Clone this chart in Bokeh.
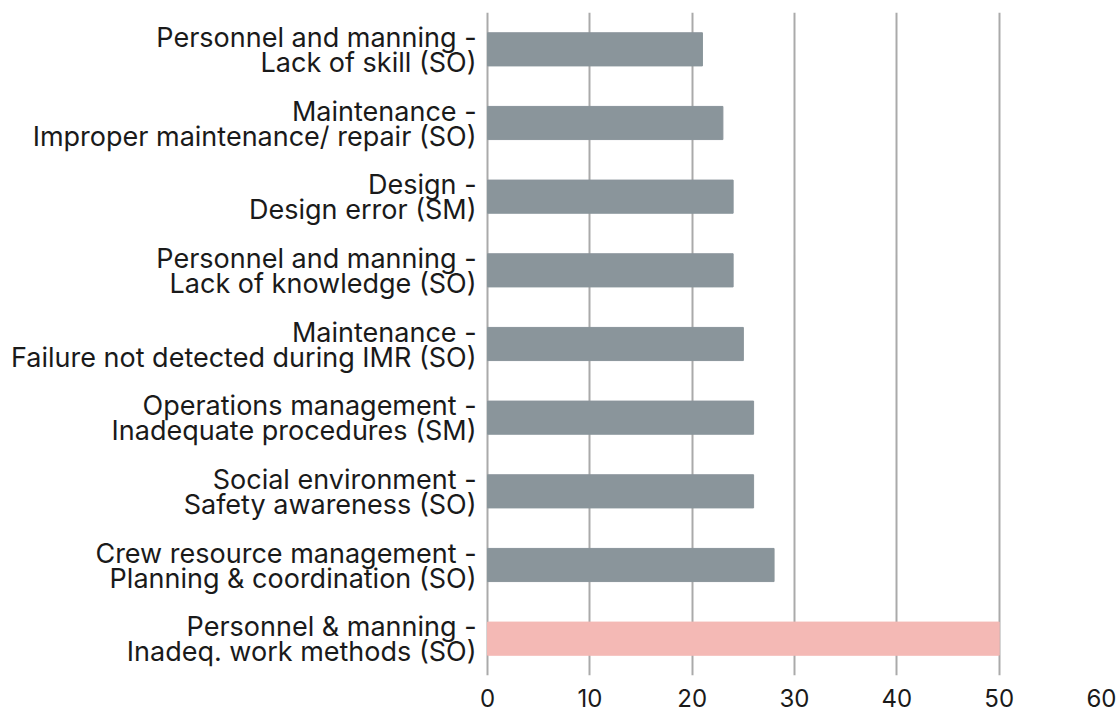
from bokeh.plotting import figure
from bokeh.models import FactorRange, Range1d, ColumnDataSource, FixedTicker
from bokeh.core.properties import value
from bokeh.embed import file_html
from bokeh.resources import INLINE

# top to bottom
categories = [
    "Personnel and manning -\nLack of skill (SO)",
    "Maintenance -\nImproper maintenance/ repair (SO)",
    "Design -\nDesign error (SM)",
    "Personnel and manning -\nLack of knowledge (SO)",
    "Maintenance -\nFailure not detected during IMR (SO)",
    "Operations management -\nInadequate procedures (SM)",
    "Social environment -\nSafety awareness (SO)",
    "Crew resource management -\nPlanning & coordination (SO)",
    "Personnel & manning -\nInadeq. work methods (SO)",
]
values = [21, 23, 24, 24, 25, 26, 26, 28, 50]
colors = ["#8a959b"] * 8 + ["#f4b9b5"]
x_ticks = [0, 10, 20, 30, 40, 50, 60]

factors = list(reversed(categories))
src = ColumnDataSource(dict(
    cat=categories, val=values, col=colors, zero=[0] * len(values),
    line1=[c.split("\n")[0] for c in categories],
    line2=[c.split("\n")[1] for c in categories],
))

# left part of the frame is reserved for the category labels
p = figure(width=1117, height=711, y_range=FactorRange(factors=factors, range_padding=0),
           x_range=Range1d(-47.6, 60), output_backend="svg", toolbar_location=None,
           min_border_top=12, min_border_left=0, min_border_right=16, min_border_bottom=36)
p.outline_line_color = None
p.hbar(y="cat", right="val", left=0, height=0.45, color="col", source=src)

common = dict(source=src, x_offset=-11, text_align="right", text_baseline="middle",
              text_font=value("Inter"), text_font_size="27px", text_color="#1a1a1a")
p.text(x="zero", y="cat", text="line1", y_offset=-12, **common)
p.text(x="zero", y="cat", text="line2", y_offset=13, **common)

p.xgrid.grid_line_color = "#aaaaaa"
p.xgrid.grid_line_width = 2
p.ygrid.grid_line_color = None
p.xaxis.ticker = FixedTicker(ticks=x_ticks)
p.xaxis.axis_line_color = None
p.xaxis.major_tick_line_color = None
p.xaxis.minor_tick_line_color = None
p.xaxis.major_label_standoff = 7
p.xaxis.major_label_text_font = "Inter"
p.xaxis.major_label_text_font_size = "24px"
p.xaxis.major_label_text_color = "#1a1a1a"

p.yaxis.visible = False

open("out.html", "w").write(file_html(p, INLINE))
